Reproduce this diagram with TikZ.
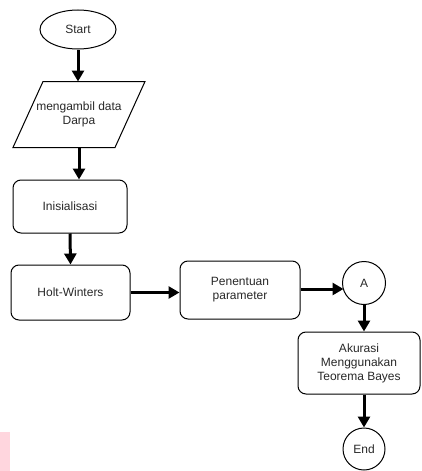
\documentclass[tikz,border=0pt]{standalone}
\usepackage{fontspec}
\setmainfont{Liberation Sans}
\usetikzlibrary{shapes.geometric,arrows.meta}
\definecolor{txt}{RGB}{40,40,40}
\definecolor{wm}{RGB}{255,214,222}
\tikzset{
  base/.style={draw=black, line width=1pt, text=txt, font=\fontsize{12}{14}\selectfont, align=center, inner sep=1pt},
  procbox/.style={base, rectangle, rounded corners=8pt},
  term/.style={base, ellipse},
  conn/.style={base, circle},
  flow/.style={line width=3pt, -{Triangle[length=11pt,width=12pt]}},
}
\begin{document}
\begin{tikzpicture}[x=1pt,y=-1pt]
\useasboundingbox (0,0) rectangle (421,471);
\fill[wm] (0,432) rectangle (10,471);
\node[term, minimum width=76pt, minimum height=39pt] (start) at (78,29.5) {Start};
\node[base, draw=none, minimum width=101pt, minimum height=65pt] (data) at (79,114.5) {mengambil data\\Darpa};
\draw[line width=1pt] ([xshift=15pt]data.north west) -- ([xshift=15pt]data.north east) -- ([xshift=-15pt]data.south east) -- ([xshift=-15pt]data.south west) -- cycle;
\node[procbox, minimum width=114pt, minimum height=53pt] (init) at (70,206.5) {Inisialisasi};
\node[procbox, minimum width=119pt, minimum height=55pt] (holt) at (70.5,292.5) {Holt-Winters};
\node[procbox, minimum width=120pt, minimum height=58pt] (pen) at (240,290) {Penentuan\\parameter};
\node[conn, minimum size=43pt] (A) at (364,283) {A};
\node[procbox, minimum width=122pt, minimum height=62pt] (aku) at (359,363) {Akurasi\\Menggunakan\\Teorema Bayes};
\node[conn, minimum size=42pt] (end) at (364,449) {End};
\draw[flow] (start.south) -- (data.north -| start.south);
\draw[flow] (data.south) -- (init.north -| data.south);
\draw[flow] (init.south) -- (holt.north);
\draw[flow] (holt.east) -- (holt.east -| pen.west);
\draw[flow] ([yshift=1pt]pen.east) -- ([yshift=1pt,xshift=1.5pt]pen.east -| A.west);
\draw[flow] (A.south) -- (A.south |- aku.north);
\draw[flow] (aku.south -| end.north) -- (end.north);
\end{tikzpicture}
\end{document}
